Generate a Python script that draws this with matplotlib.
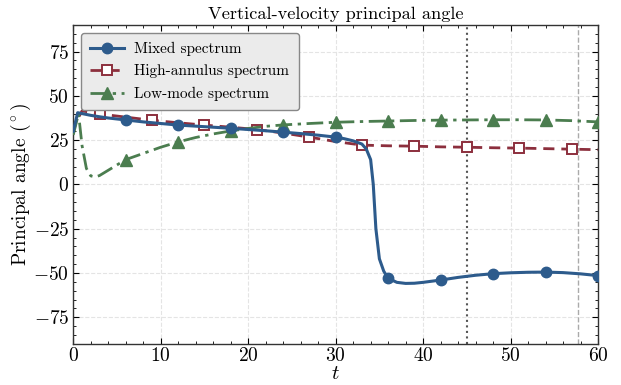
import numpy as np
import matplotlib
matplotlib.use('Agg')
import matplotlib.pyplot as plt
from matplotlib.ticker import MultipleLocator

plt.rcParams['font.family'] = 'serif'
plt.rcParams['font.serif'] = ['cmr10']
plt.rcParams['mathtext.fontset'] = 'cm'
plt.rcParams['axes.formatter.use_mathtext'] = True
plt.rcParams['axes.unicode_minus'] = True

# Mixed spectrum: angle vs time
t_mixed = [0, 0.5, 1, 2, 3, 4, 6, 8, 10, 12, 14, 16, 18, 20, 22, 24, 26, 28, 30,
           31, 32, 33, 33.5, 34, 34.3, 34.6, 35, 35.5, 36, 37, 38, 39, 40, 42,
           44, 46, 48, 50, 52, 54, 56, 58, 60]
a_mixed = [30, 40.5, 40, 39, 38.2, 37.5, 36.4, 35.3, 34.4, 33.5, 32.9, 32.3, 31.7,
           31.0, 30.3, 29.5, 28.7, 27.8, 26.7, 25.8, 24.6, 22.8, 20, 14, 0, -25,
           -42, -49, -53, -55.3, -55.9, -55.8, -55.3, -54, -52.5, -51.3, -50.4,
           -49.9, -49.6, -49.5, -49.8, -50.5, -51.5]
mk_mixed = [6, 12, 18, 24, 30, 36, 42, 48, 54, 60]

# High-annulus spectrum
t_high = [0, 0.3, 1, 2, 3, 6, 9, 12, 15, 18, 21, 24, 27, 30, 33, 36, 39, 42, 45,
          48, 51, 54, 57, 60]
a_high = [29, 35, 41.5, 40.7, 39.8, 38.0, 36.2, 34.8, 33.5, 32.3, 31.0, 29.0,
          26.7, 24.2, 22.2, 21.8, 21.6, 21.2, 21.0, 20.7, 20.5, 20.2, 19.9, 19.6]
mk_high = [3, 9, 15, 21, 27, 33, 39, 45, 51, 57]

# Low-mode spectrum
t_low = [0, 0.6, 1, 1.5, 2, 2.5, 3, 4, 5, 6, 8, 10, 12, 14, 16, 18, 20, 22, 24,
         27, 30, 33, 36, 39, 42, 45, 48, 51, 54, 57, 60]
a_low = [28, 40, 22, 9, 4.8, 4.2, 5, 8, 11, 14, 17.5, 21, 24, 26.5, 28.5, 30.2,
         31.6, 32.8, 33.6, 34.4, 35.1, 35.5, 35.8, 36.1, 36.3, 36.4, 36.5, 36.5,
         36.4, 36.0, 35.3]
mk_low = [6, 12, 18, 24, 30, 36, 42, 48, 54, 60]

t_dotted = 45.0
t_dashed = 57.7


def mark_idx(ts, marks):
    return [ts.index(m) for m in marks]


fig, ax = plt.subplots(figsize=(6.21, 3.85), dpi=100)
fig.subplots_adjust(left=0.118, right=0.963, top=0.935, bottom=0.107)

ax.plot(t_mixed, a_mixed, color='#2D5B8C', lw=2.2, marker='o', ms=7.5,
        markevery=mark_idx(t_mixed, mk_mixed), label='Mixed spectrum', zorder=4)
ax.plot(t_high, a_high, color='#8C2F3D', lw=2.0, ls=(0, (4, 2.5)), marker='s',
        ms=7.5, mfc='white', mec='#8C2F3D', mew=1.4,
        markevery=mark_idx(t_high, mk_high), label='High-annulus spectrum', zorder=3)
ax.plot(t_low, a_low, color='#4B7D4F', lw=2.0, ls=(0, (6, 2, 1.2, 2)), marker='^',
        ms=8, markevery=mark_idx(t_low, mk_low), label='Low-mode spectrum', zorder=3)

ax.axvline(t_dotted, color='#555555', lw=1.5, ls=':', zorder=2)
ax.axvline(t_dashed, color='#aaaaaa', lw=1.0, ls='--', zorder=2)

ax.set_xlim(0, 60)
ax.set_ylim(-90, 90)
ax.xaxis.set_major_locator(MultipleLocator(10))
ax.xaxis.set_minor_locator(MultipleLocator(2))
ax.yaxis.set_major_locator(MultipleLocator(25))
ax.yaxis.set_minor_locator(MultipleLocator(5))
ax.tick_params(which='both', direction='in', top=True, right=True, labelsize=14)
ax.tick_params(which='major', length=4, pad=3)
ax.tick_params(axis='x', which='major', pad=2)
ax.tick_params(which='minor', length=2)
ax.grid(True, which='major', ls='--', color='#e4e4e4', lw=0.8)
for s in ax.spines.values():
    s.set_color('#333333')
    s.set_linewidth(1.0)

ax.set_xlabel('$t$', fontsize=15, labelpad=0)
ax.set_ylabel(r'Principal angle $(^\circ)$', fontsize=14, labelpad=0)
ax.set_title('Vertical-velocity principal angle', fontsize=13.2, pad=4)

leg = ax.legend(loc='upper left', fontsize=11, handlelength=2.2, fancybox=True,
                framealpha=1.0, borderpad=0.6, labelspacing=0.55,
                handletextpad=0.7)
leg.get_frame().set_facecolor('#ebebeb')
leg.get_frame().set_edgecolor('#888888')

fig.savefig('out.png', dpi=100)
